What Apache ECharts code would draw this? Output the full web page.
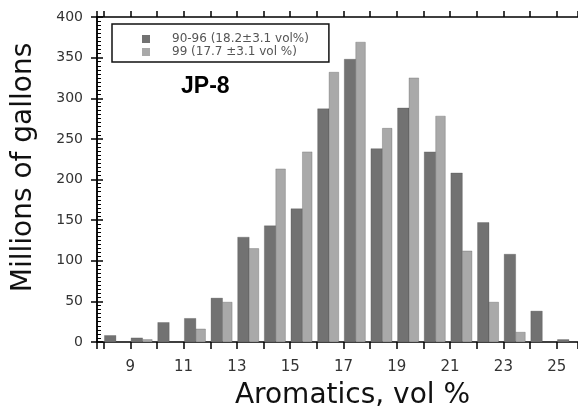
<!DOCTYPE html>
<html>
<head>
<meta charset="utf-8">
<script src="https://cdn.jsdelivr.net/npm/echarts@6/dist/echarts.min.js"></script>
<style>
  html, body { margin: 0; padding: 0; background: #fff; }
  #chart { width: 578px; height: 410px; }
</style>
</head>
<body>
<div id="chart"></div>
<script>
// Aromatics content bins (vol %), each bar spans [bin, bin + 1)
const bins = [8, 9, 10, 11, 12, 13, 14, 15, 16, 17, 18, 19, 20, 21, 22, 23, 24, 25];

// Volumes, millions of gallons
const volumes9096 = [8, 5, 24, 29, 54, 129, 143, 164, 287, 348, 238, 288, 234, 208, 147, 108, 38, 3];
const volumes99   = [0, 3, 0, 16, 49, 115, 213, 234, 332, 369, 263, 325, 278, 112, 49, 12, 0, 0];

const seriesNames = ['90-96 (18.2±3.1 vol%)', '99 (17.7 ±3.1 vol %)'];
const seriesColors = ['#727272', '#a9a9a9'];
// Horizontal placement of each series' bar inside its one-unit bin
const barSpans = [[0.03, 0.46], [0.46, 0.82]];

const xLabelValues = [9, 11, 13, 15, 17, 19, 21, 23, 25];

const chart = echarts.init(document.getElementById('chart'));

function makeRenderer(span, color) {
  return function (params, api) {
    const bin = api.value(0);
    const v = api.value(1);
    if (!v) return null;
    const p0 = api.coord([bin + span[0], 0]);
    const p1 = api.coord([bin + span[1], v]);
    return {
      type: 'rect',
      shape: { x: p0[0], y: p1[1], width: p1[0] - p0[0], height: p0[1] - p1[1] },
      style: { fill: color, stroke: 'rgba(70,70,70,0.35)', lineWidth: 0.8 }
    };
  };
}

const seriesValues = [volumes9096, volumes99];

const axisBase = {
  type: 'value',
  min: 7.75,
  max: 25.8,
  minInterval: 1,
  maxInterval: 1,
  splitLine: { show: false }
};

chart.setOption({
  animation: false,
  backgroundColor: '#fff',
  grid: { left: 97, right: 0, top: 17, bottom: 68, outerBoundsMode: 'none' },
  title: {
    text: 'JP-8',
    left: 181,
    top: 75,
    padding: 0,
    textStyle: { fontFamily: 'Liberation Sans', fontWeight: 'bold', fontSize: 23, color: '#000' }
  },
  legend: {
    orient: 'vertical',
    left: 112,
    top: 24,
    padding: [9, 20, 4, 30],
    itemWidth: 8,
    itemHeight: 8,
    itemGap: 1,
    icon: 'rect',
    borderColor: '#111',
    borderWidth: 1.5,
    textStyle: { fontFamily: 'DejaVu Sans', fontSize: 12, lineHeight: 12, color: '#555', padding: [0, 0, 0, 17] },
    data: seriesNames
  },
  xAxis: [
    Object.assign({}, axisBase, {
      position: 'bottom',
      name: 'Aromatics, vol %',
      nameLocation: 'middle',
      nameGap: 40,
      nameTextStyle: { fontFamily: 'DejaVu Sans', fontSize: 28, color: '#111', padding: [0, 0, 0, 30] },
      axisLine: { onZero: false, lineStyle: { color: '#000', width: 1.5 } },
      axisTick: { show: true, inside: false, length: 7, lineStyle: { color: '#000', width: 1.5 } },
      axisLabel: {
        margin: 18,
        fontFamily: 'DejaVu Sans',
        fontSize: 15,
        color: '#333',
        formatter: function (v) { return xLabelValues.indexOf(v) >= 0 ? String(v) : ''; }
      }
    }),
    Object.assign({}, axisBase, {
      position: 'top',
      axisLine: { show: true, onZero: false, lineStyle: { color: '#000', width: 1.5 } },
      axisTick: { show: true, inside: false, length: 6, lineStyle: { color: '#000', width: 1.5 } },
      axisLabel: { show: false }
    })
  ],
  yAxis: [
    {
      type: 'value',
      position: 'left',
      min: 0,
      max: 400,
      interval: 50,
      name: 'Millions of gallons',
      nameLocation: 'middle',
      nameGap: 59,
      nameTextStyle: { fontFamily: 'DejaVu Sans', fontSize: 28, color: '#111', padding: [0, 0, 0, 24] },
      axisLine: { show: true, onZero: false, lineStyle: { color: '#000', width: 1.5 } },
      axisTick: { show: true, inside: false, length: 6, lineStyle: { color: '#000', width: 1.5 } },
      axisLabel: { margin: 14, fontFamily: 'DejaVu Sans', fontSize: 14, color: '#333' },
      splitLine: { show: false }
    },
    {
      type: 'value',
      position: 'left',
      min: 0,
      max: 400,
      interval: 50,
      axisLine: { show: true, onZero: false, lineStyle: { color: '#000', width: 1.5 } },
      axisTick: { show: true, inside: true, length: 6, lineStyle: { color: '#000', width: 1.5 } },
      minorTick: { show: true, splitNumber: 10, length: 4, lineStyle: { color: '#000', width: 1 } },
      axisLabel: { show: false },
      splitLine: { show: false }
    }
  ],
  series: seriesNames.map(function (name, k) {
    return {
      name: name,
      type: 'custom',
      xAxisIndex: k,
      yAxisIndex: k,
      itemStyle: { color: seriesColors[k] },
      renderItem: makeRenderer(barSpans[k], seriesColors[k]),
      encode: { x: 0, y: 1 },
      data: bins.map(function (b, i) { return [b, seriesValues[k][i]]; })
    };
  })
});
</script>
</body>
</html>
